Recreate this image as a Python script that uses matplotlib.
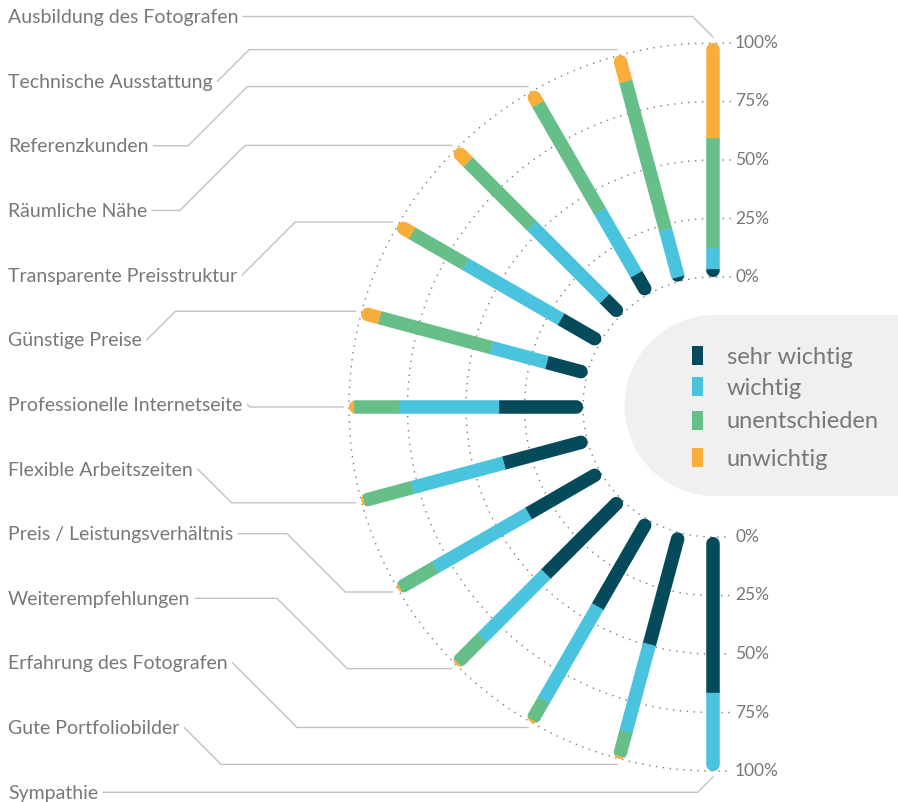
import numpy as np
import matplotlib.pyplot as plt
from matplotlib.patches import Polygon, Rectangle

# survey answers in percent, one entry per criterion (top to bottom)
categories = [
    'Ausbildung des Fotografen', 'Technische Ausstattung', 'Referenzkunden',
    'Räumliche Nähe', 'Transparente Preisstruktur', 'Günstige Preise',
    'Professionelle Internetseite', 'Flexible Arbeitszeiten',
    'Preis / Leistungsverhältnis', 'Weiterempfehlungen',
    'Erfahrung des Fotografen', 'Gute Portfoliobilder', 'Sympathie',
]
sehr_wichtig = [3.5, 2, 10, 10, 19.5, 18, 36, 37, 35.5, 45.5, 43, 49.5, 66.5]
wichtig = [9, 21, 31, 44, 47, 24.5, 42.5, 40.5, 46, 38.5, 46, 38.5, 33]
unentschieden = [47, 65.5, 53, 38.5, 26.5, 49.5, 19.5, 21.5, 17.5, 15, 10, 11, 0.5]
unwichtig = [40.5, 11.5, 6, 7.5, 7, 8, 2, 1, 1, 1, 1, 1, 0]
series_names = ['sehr wichtig', 'wichtig', 'unentschieden', 'unwichtig']
pct_ticks = [0, 25, 50, 75, 100]

colors = ['#044a5a', '#49c3de', '#66bf89', '#f9ae3b']
TEXT = '#787878'
LEAD = '#c2c2c2'
FONT = 'Lato'

# layout (pixels)
W, H = 898, 802
cx, cy = 713, 407
r_in, r_out = 130, 364
bar_w = 13.5
r_lead = 370
knees = [9999, 0, 188, 180, 0, 0, 0, 0, 287, 277, 0, 0, 9999]


def radius(p):
    return r_in + (r_out - r_in) * p / 100.0


def unit(ang):
    return np.array([np.cos(ang), -np.sin(ang)])


def stadium(ang, r0, r1, w):
    u = unit(ang)
    n = np.array([-u[1], u[0]])
    c0 = np.array([cx, cy]) + u * (r0 + w / 2)
    c1 = np.array([cx, cy]) + u * (r1 - w / 2)
    t = np.linspace(-np.pi / 2, np.pi / 2, 24)
    outer = c1 + (w / 2) * (np.outer(np.cos(t), u) + np.outer(np.sin(t), n))
    inner = c0 + (w / 2) * (np.outer(-np.cos(t), u) + np.outer(-np.sin(t), n))
    return np.vstack([outer, inner])


def quad(ang, r0, r1, w):
    u = unit(ang)
    n = np.array([-u[1], u[0]])
    c = np.array([cx, cy])
    return np.array([c + u * r0 + n * w / 2, c + u * r1 + n * w / 2,
                     c + u * r1 - n * w / 2, c + u * r0 - n * w / 2])


fig = plt.figure(figsize=(W / 100, H / 100), dpi=100)
ax = fig.add_axes([0, 0, 1, 1])
ax.set_xlim(0, W)
ax.set_ylim(H, 0)
ax.axis('off')

# dotted grid arcs
arc = np.linspace(np.pi / 2, 3 * np.pi / 2, 300)
for p in pct_ticks:
    r = radius(p)
    xs = np.concatenate([[cx + 18], cx + r * np.cos(arc), [cx + 18]])
    ys = np.concatenate([[cy - r], cy - r * np.sin(arc), [cy + r]])
    ax.plot(xs, ys, color='#7a7a7a', lw=1.0, ls=(0, (1, 4)), zorder=1)
    for y in (cy - r, cy + r):
        ax.text(cx + 22, y, f'{p}%', fontsize=12.5, color=TEXT, family=FONT,
                va='center', ha='left')

# stacked radial bars
data = np.array([sehr_wichtig, wichtig, unentschieden, unwichtig]).T
angles = np.deg2rad(90 + 180 / (len(categories) - 1) * np.arange(len(categories)))
for ang, row in zip(angles, data):
    clip = Polygon(stadium(ang, r_in, r_out, bar_w), closed=True,
                   facecolor='none', edgecolor='none', transform=ax.transData)
    ax.add_patch(clip)
    cum = np.concatenate([[0], np.cumsum(row)])
    for k in range(4):
        if row[k] <= 0:
            continue
        seg = Polygon(quad(ang, radius(cum[k]), radius(cum[k + 1]), bar_w + 2),
                      closed=True, facecolor=colors[k], edgecolor=colors[k],
                      lw=0.3, zorder=3)
        ax.add_patch(seg)
        seg.set_clip_path(clip)

# category labels
label_y = [16.5 + i * 64.65 for i in range(len(categories))]
texts = []
for name, y in zip(categories, label_y):
    texts.append(ax.text(8, y + 6.5, name, fontsize=14, color=TEXT, family=FONT,
                         va='baseline', ha='left'))

fig.canvas.draw()
inv = ax.transData.inverted()
for t, y, ang, knee in zip(texts, label_y, angles, knees):
    bb = t.get_window_extent()
    x_end = inv.transform((bb.x1, bb.y0))[0] + 5
    tx, ty = cx + r_lead * np.cos(ang), cy - r_lead * np.sin(ang)
    dy = abs(ty - y)
    kx = min(max(knee, x_end), tx - dy)
    ax.plot([x_end, kx, kx + dy, tx], [y, y, ty, ty], color=LEAD, lw=1.0, zorder=2)

# legend
R = 90.5
lt = np.linspace(np.pi / 2, 3 * np.pi / 2, 80)
bg = np.column_stack([715 + R * np.cos(lt), 405.5 - R * np.sin(lt)])
bg = np.vstack([bg, [[910, 405.5 + R], [910, 405.5 - R]]])
ax.add_patch(Polygon(bg, closed=True, facecolor='#f0f0f0', edgecolor='none', zorder=0))
for name, col, yc in zip(series_names, colors, [355, 386.5, 420, 457]):
    ax.add_patch(Rectangle((692, yc - 9.5), 11, 19, facecolor=col, edgecolor='none', zorder=4))
    ax.text(727, yc + 8.5, name, fontsize=17, color=TEXT, family=FONT,
            va='baseline', ha='left')

fig.savefig('out.png', dpi=100)
